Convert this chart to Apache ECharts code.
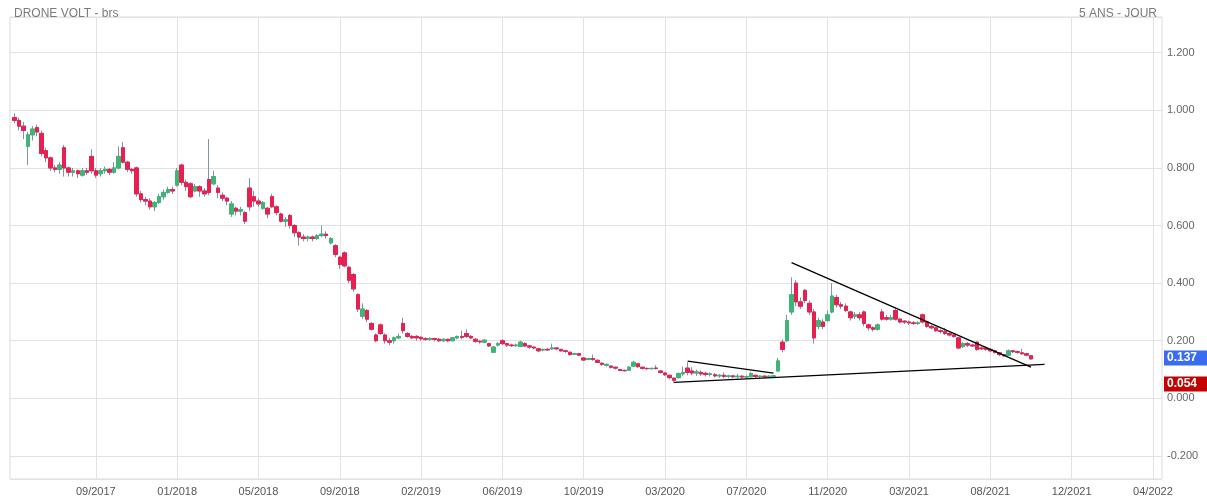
<!DOCTYPE html>
<html>
<head>
<meta charset="utf-8">
<script src="https://cdn.jsdelivr.net/npm/echarts@6/dist/echarts.min.js"></script>
<style>
html,body{margin:0;padding:0;background:#fff;}
#chart{width:1207px;height:500px;}
</style>
</head>
<body>
<div id="chart"></div>
<script>
// ---- data (weekly candles) ----
const titleLeft = 'DRONE VOLT - brs';
const titleRight = '5 ANS - JOUR';
const tickLabels = ['09/2017','01/2018','05/2018','09/2018','02/2019','06/2019','10/2019','03/2020','07/2020','11/2020','03/2021','08/2021','12/2021','04/2022'];
const slotCount = 256;     // weekly slots across the axis
const firstTickSlot = 19;  // slot of the first tick label
const tickStep = 18;       // slots between tick labels
const firstCandleSlot = 1;

const opens = [
0.975,0.965,0.945,0.875,0.915,0.94,0.92,0.86,0.835,0.80,
0.795,0.87,0.80,0.785,0.79,0.775,0.79,0.84,0.79,0.78,
0.79,0.795,0.785,0.80,0.87,0.82,0.795,0.80,0.71,0.69,
0.685,0.665,0.68,0.70,0.715,0.725,0.74,0.81,0.75,0.745,
0.72,0.735,0.72,0.76,0.745,0.73,0.705,0.695,0.64,0.66,
0.65,0.645,0.73,0.70,0.685,0.66,0.66,0.70,0.665,0.64,
0.615,0.635,0.60,0.575,0.56,0.555,0.56,0.555,0.565,0.57,
0.54,0.53,0.49,0.505,0.455,0.43,0.36,0.285,0.305,0.26,
0.22,0.255,0.22,0.20,0.20,0.21,0.26,0.225,0.215,0.215,
0.212,0.207,0.205,0.208,0.205,0.20,0.205,0.20,0.21,0.215,
0.225,0.215,0.205,0.198,0.195,0.19,0.16,0.185,0.20,0.19,
0.185,0.183,0.18,0.19,0.182,0.178,0.172,0.168,0.17,0.172,
0.175,0.17,0.165,0.16,0.153,0.155,0.14,0.135,0.138,0.132,
0.122,0.115,0.112,0.108,0.10,0.097,0.098,0.112,0.12,0.108,
0.104,0.103,0.105,0.095,0.088,0.08,0.07,0.072,0.085,0.105,
0.095,0.088,0.09,0.087,0.083,0.082,0.078,0.08,0.076,0.078,
0.075,0.077,0.074,0.075,0.08,0.076,0.077,0.075,0.077,0.095,
0.195,0.20,0.30,0.40,0.335,0.375,0.33,0.30,0.25,0.265,
0.27,0.30,0.35,0.325,0.32,0.30,0.285,0.29,0.30,0.255,
0.245,0.24,0.30,0.28,0.275,0.305,0.275,0.268,0.265,0.262,
0.26,0.29,0.265,0.25,0.245,0.235,0.232,0.225,0.22,0.21,
0.18,0.19,0.185,0.195,0.175,0.175,0.17,0.165,0.158,0.152,
0.15,0.165,0.162,0.158,0.155,0.148
];
const closes = [
0.965,0.945,0.93,0.915,0.935,0.925,0.85,0.835,0.80,0.795,
0.81,0.80,0.785,0.79,0.78,0.79,0.785,0.79,0.775,0.79,
0.795,0.785,0.80,0.84,0.82,0.795,0.79,0.71,0.69,0.685,
0.665,0.68,0.70,0.715,0.725,0.72,0.79,0.75,0.735,0.70,
0.735,0.72,0.71,0.715,0.77,0.715,0.695,0.685,0.675,0.65,
0.655,0.615,0.665,0.685,0.675,0.68,0.64,0.665,0.645,0.615,
0.62,0.60,0.575,0.56,0.555,0.56,0.555,0.565,0.57,0.565,
0.555,0.50,0.465,0.46,0.41,0.38,0.31,0.31,0.275,0.24,
0.20,0.225,0.20,0.195,0.21,0.215,0.235,0.215,0.21,0.21,
0.207,0.205,0.208,0.205,0.20,0.205,0.20,0.21,0.215,0.212,
0.215,0.21,0.198,0.196,0.202,0.182,0.178,0.19,0.19,0.185,
0.183,0.185,0.195,0.182,0.178,0.175,0.165,0.17,0.168,0.175,
0.172,0.165,0.163,0.152,0.155,0.15,0.133,0.138,0.135,0.125,
0.118,0.118,0.108,0.105,0.097,0.096,0.108,0.125,0.11,0.104,
0.103,0.104,0.104,0.09,0.082,0.072,0.063,0.086,0.09,0.09,
0.088,0.092,0.085,0.083,0.085,0.078,0.08,0.076,0.078,0.075,
0.077,0.074,0.076,0.086,0.076,0.077,0.075,0.077,0.078,0.13,
0.17,0.27,0.36,0.335,0.32,0.34,0.30,0.21,0.27,0.25,
0.29,0.355,0.325,0.32,0.305,0.28,0.29,0.28,0.26,0.245,
0.24,0.255,0.275,0.275,0.28,0.275,0.265,0.265,0.262,0.26,
0.262,0.265,0.25,0.245,0.235,0.232,0.225,0.22,0.215,0.175,
0.19,0.185,0.182,0.17,0.172,0.17,0.165,0.16,0.152,0.148,
0.165,0.162,0.16,0.155,0.15,0.137
];
const lows = [
0.955,0.93,0.90,0.81,0.895,0.91,0.84,0.82,0.79,0.785,
0.78,0.77,0.77,0.77,0.765,0.77,0.775,0.78,0.765,0.77,
0.78,0.775,0.78,0.795,0.815,0.785,0.78,0.70,0.68,0.67,
0.655,0.65,0.675,0.69,0.71,0.71,0.735,0.74,0.72,0.695,
0.715,0.70,0.70,0.705,0.74,0.695,0.685,0.67,0.63,0.635,
0.635,0.605,0.65,0.665,0.665,0.655,0.625,0.66,0.635,0.61,
0.595,0.59,0.56,0.53,0.545,0.545,0.545,0.55,0.56,0.555,
0.535,0.49,0.45,0.455,0.40,0.37,0.30,0.275,0.265,0.235,
0.195,0.22,0.19,0.185,0.19,0.205,0.225,0.21,0.205,0.20,
0.20,0.20,0.20,0.198,0.195,0.197,0.195,0.198,0.205,0.205,
0.21,0.205,0.192,0.19,0.192,0.178,0.158,0.18,0.185,0.178,
0.178,0.178,0.178,0.178,0.172,0.17,0.16,0.163,0.165,0.168,
0.168,0.162,0.158,0.148,0.15,0.146,0.13,0.132,0.13,0.122,
0.112,0.11,0.104,0.10,0.094,0.093,0.096,0.11,0.106,0.10,
0.099,0.10,0.10,0.086,0.078,0.066,0.054,0.068,0.078,0.08,
0.08,0.078,0.078,0.076,0.076,0.072,0.071,0.07,0.07,0.07,
0.07,0.069,0.069,0.072,0.071,0.071,0.071,0.071,0.072,0.092,
0.16,0.195,0.29,0.32,0.31,0.33,0.29,0.19,0.24,0.24,
0.265,0.295,0.315,0.31,0.30,0.27,0.275,0.27,0.25,0.235,
0.232,0.235,0.27,0.27,0.27,0.27,0.26,0.258,0.255,0.255,
0.255,0.26,0.245,0.24,0.23,0.225,0.22,0.215,0.21,0.17,
0.175,0.178,0.178,0.165,0.168,0.165,0.16,0.155,0.146,0.144,
0.148,0.157,0.155,0.15,0.146,0.135
];
const highs = [
0.99,0.975,0.96,0.925,0.945,0.95,0.93,0.87,0.84,0.81,
0.82,0.88,0.805,0.80,0.795,0.80,0.80,0.865,0.80,0.80,
0.805,0.80,0.82,0.875,0.89,0.825,0.80,0.805,0.72,0.70,
0.695,0.685,0.71,0.725,0.735,0.735,0.80,0.815,0.76,0.75,
0.745,0.74,0.73,0.90,0.79,0.74,0.715,0.70,0.685,0.665,
0.665,0.65,0.765,0.72,0.695,0.685,0.665,0.71,0.67,0.645,
0.63,0.64,0.605,0.58,0.57,0.565,0.565,0.57,0.60,0.58,
0.56,0.535,0.495,0.51,0.46,0.435,0.365,0.33,0.31,0.265,
0.225,0.26,0.225,0.21,0.215,0.225,0.28,0.23,0.22,0.22,
0.215,0.212,0.212,0.21,0.21,0.208,0.207,0.213,0.218,0.235,
0.24,0.22,0.21,0.203,0.205,0.193,0.182,0.195,0.205,0.192,
0.19,0.19,0.20,0.195,0.186,0.18,0.175,0.173,0.175,0.19,
0.178,0.172,0.168,0.162,0.158,0.158,0.143,0.141,0.152,0.135,
0.124,0.122,0.114,0.11,0.102,0.10,0.112,0.13,0.123,0.11,
0.107,0.107,0.115,0.097,0.09,0.082,0.073,0.09,0.11,0.126,
0.108,0.10,0.097,0.092,0.09,0.088,0.085,0.09,0.082,0.082,
0.085,0.08,0.08,0.092,0.082,0.08,0.08,0.08,0.082,0.14,
0.205,0.29,0.42,0.41,0.35,0.38,0.34,0.31,0.28,0.275,
0.305,0.40,0.36,0.335,0.33,0.305,0.30,0.30,0.305,0.26,
0.25,0.26,0.31,0.29,0.29,0.315,0.28,0.272,0.27,0.268,
0.268,0.295,0.27,0.255,0.25,0.24,0.245,0.23,0.225,0.212,
0.195,0.195,0.19,0.198,0.18,0.18,0.175,0.168,0.16,0.155,
0.17,0.168,0.166,0.172,0.158,0.15
];

// trend lines: [slot, value] pairs
const trendSupport = [[147, 0.0556], [229, 0.1179]];
const trendResistance = [[173, 0.471], [226, 0.1082]];
const trendSmall = [[150, 0.129], [169, 0.0874]];

const lastPrice = 0.137;
const lowPrice = 0.054;

// ---- chart ----
const slots = [];
for (let i = 0; i < slotCount; i++) slots.push(String(i));

const wickData = opens.map((o, k) => [firstCandleSlot + k, o, closes[k], lows[k], highs[k]]);
const bodyData = opens.map((o, k) => [firstCandleSlot + k, o, closes[k], Math.min(o, closes[k]), Math.max(o, closes[k])]);

const isTick = (idx) => idx >= firstTickSlot && (idx - firstTickSlot) % tickStep === 0;
const FONT = '"Liberation Sans", Arial, sans-serif';
const UP = '#3fb573', DOWN = '#e8204f', WICK = '#7d93ae';

function seg(pair) {
  return [{ coord: pair[0] }, { coord: pair[1] }];
}
function priceTag(value, bg) {
  return {
    yAxis: value,
    lineStyle: { color: 'rgba(255,255,255,0)', width: 0 },
    label: {
      show: true, position: 'end', distance: 2,
      formatter: value.toFixed(3),
      backgroundColor: bg, color: '#fff',
      fontFamily: FONT, fontSize: 12, fontWeight: 'bold',
      padding: [2, 4, 1, 3], width: 36
    }
  };
}

const chart = echarts.init(document.getElementById('chart'), null, { renderer: 'canvas' });
chart.setOption({
  animation: false,
  backgroundColor: '#ffffff',
  title: [
    { text: titleLeft, left: 9, top: 3, textStyle: { fontFamily: FONT, fontSize: 12, fontWeight: 'normal', color: '#7b7b7b' } },
    { text: titleRight, right: 45, top: 3, textStyle: { fontFamily: FONT, fontSize: 12, fontWeight: 'normal', color: '#7b7b7b' } }
  ],
  grid: { left: 10, right: 45, top: 17, bottom: 21, show: true, borderColor: '#dcdcdc', borderWidth: 1 },
  xAxis: {
    type: 'category',
    data: slots,
    boundaryGap: false,
    axisLine: { show: false },
    axisTick: { show: false },
    axisLabel: {
      interval: (idx) => isTick(idx),
      formatter: (v, idx) => tickLabels[(idx - firstTickSlot) / tickStep] || '',
      color: '#555', fontFamily: FONT, fontSize: 11, margin: 7
    },
    splitLine: { show: true, interval: (idx) => isTick(idx), lineStyle: { color: '#e2e2e2', width: 1 } }
  },
  yAxis: {
    type: 'value',
    position: 'right',
    min: -0.28,
    max: 1.324,
    splitNumber: 8,
    axisLine: { show: false },
    axisTick: { show: false },
    axisLabel: {
      showMinLabel: false, showMaxLabel: false,
      formatter: (v) => v.toFixed(3),
      color: '#666', fontFamily: FONT, fontSize: 11, margin: 5
    },
    splitLine: { show: true, lineStyle: { color: '#e2e2e2', width: 1 } }
  },
  series: [
    {
      name: 'wick',
      type: 'candlestick',
      data: wickData,
      encode: { x: 0, y: [1, 2, 3, 4] },
      barWidth: 4,
      itemStyle: { color: 'rgba(0,0,0,0)', color0: 'rgba(0,0,0,0)', borderColor: WICK, borderColor0: WICK, borderWidth: 1 },
      markLine: {
        silent: true,
        symbol: 'none',
        animation: false,
        lineStyle: { color: '#000', width: 1.3, type: 'solid' },
        label: { show: false },
        data: [seg(trendSupport), seg(trendResistance), seg(trendSmall)]
      }
    },
    {
      name: 'body',
      type: 'candlestick',
      data: bodyData,
      encode: { x: 0, y: [1, 2, 3, 4] },
      barWidth: 4,
      itemStyle: { color: UP, color0: DOWN, borderColor: UP, borderColor0: DOWN, borderWidth: 1 },
      markLine: {
        silent: true,
        symbol: 'none',
        animation: false,
        data: [priceTag(lastPrice, '#3a6cf2'), priceTag(lowPrice, '#c40000')]
      }
    }
  ]
});
</script>
</body>
</html>
